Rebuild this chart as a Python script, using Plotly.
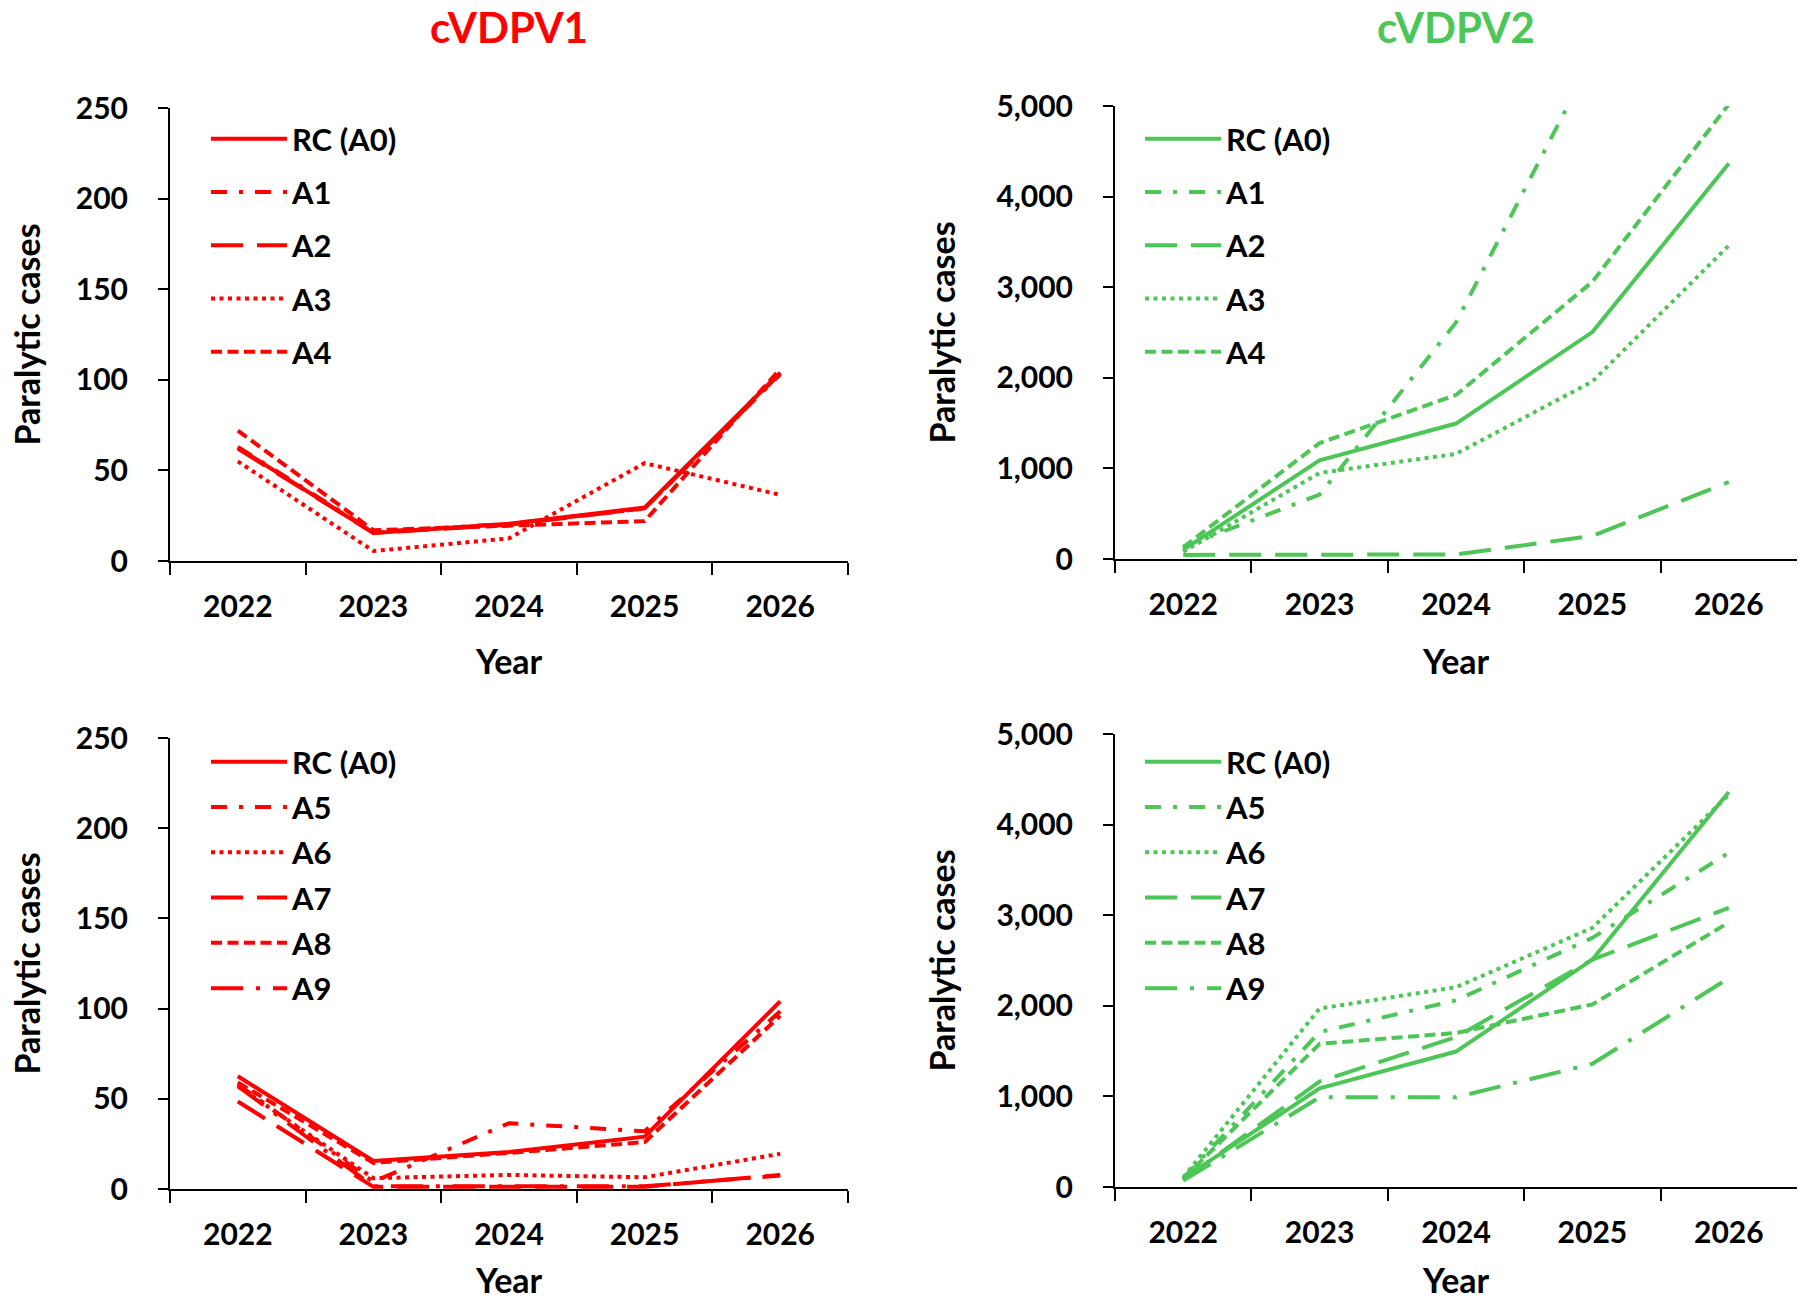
import plotly.graph_objects as go

# ---------------- data ----------------
years = ["2022", "2023", "2024", "2025", "2026"]

# cVDPV1, scenarios A0-A4 (top-left)
v1_top_names = ["RC (A0)", "A1", "A2", "A3", "A4"]
v1_RC = [62.5, 15.5, 20.5, 29.5, 104]
v1_A1 = [63, 16, 20.5, 29, 103]
v1_A2 = [62, 15.5, 20, 29, 103.5]
v1_A3 = [55, 5.5, 12.5, 54, 36.5]
v1_A4 = [72, 17, 19.5, 22, 106]

# cVDPV2, scenarios A0-A4 (top-right)
v2_top_names = ["RC (A0)", "A1", "A2", "A3", "A4"]
v2_RC = [100, 1090, 1495, 2505, 4365]
v2_A1 = [136, 710, 2610, 5530, 8000]
v2_A2 = [45, 45, 50, 255, 850]
v2_A3 = [80, 950, 1160, 1960, 3460]
v2_A4 = [130, 1280, 1810, 3060, 5020]

# cVDPV1, scenarios A0, A5-A9 (bottom-left)
v1_bot_names = ["RC (A0)", "A5", "A6", "A7", "A8", "A9"]
v1b_RC = [62.5, 15.5, 20.5, 29, 104]
v1b_A5 = [58, 4, 36.5, 32, 98.5]
v1b_A6 = [57, 6, 7.8, 6.5, 19.5]
v1b_A7 = [48.5, 1.2, 1.2, 1.2, 7.8]
v1b_A8 = [59, 14.5, 20, 26, 96]
v1b_A9 = [57, 1.5, 1.5, 1.5, 7.5]

# cVDPV2, scenarios A0, A5-A9 (bottom-right)
v2_bot_names = ["RC (A0)", "A5", "A6", "A7", "A8", "A9"]
v2b_RC = [95, 1090, 1495, 2510, 4360]
v2b_A5 = [95, 1710, 2060, 2750, 3690]
v2b_A6 = [105, 1970, 2205, 2860, 4330]
v2b_A7 = [80, 1165, 1655, 2510, 3080]
v2b_A8 = [92, 1580, 1700, 2015, 2920]
v2b_A9 = [70, 990, 990, 1360, 2305]

# ---------------- styles ----------------
RED = "#FF0000"
GREEN = "#4DC657"
FONT = "Lato, 'Open Sans', sans-serif"
LW = 4
DASH = {
    "solid": "solid",
    "dashdot": "16px,12px,4px,12px",
    "longdash": "32px,14px",
    "dot": "4px,4.5px",
    "dash": "11px,5.5px",
    "longdashdot": "32px,13px,4px,13px",
}
top_dashes = ["solid", "dashdot", "longdash", "dot", "dash"]
bot_dashes = ["solid", "dashdot", "dot", "longdash", "dash", "longdashdot"]

panels = [
    # (series, names, dashes, color, xaxis, yaxis, legend)
    ([v1_RC, v1_A1, v1_A2, v1_A3, v1_A4], v1_top_names, top_dashes, RED, "x", "y", "legend"),
    ([v2_RC, v2_A1, v2_A2, v2_A3, v2_A4], v2_top_names, top_dashes, GREEN, "x2", "y2", "legend2"),
    ([v1b_RC, v1b_A5, v1b_A6, v1b_A7, v1b_A8, v1b_A9], v1_bot_names, bot_dashes, RED, "x3", "y3", "legend3"),
    ([v2b_RC, v2b_A5, v2b_A6, v2b_A7, v2b_A8, v2b_A9], v2_bot_names, bot_dashes, GREEN, "x4", "y4", "legend4"),
]

fig = go.Figure()
for pi, (series, names, dashes, color, xa, ya, lg) in enumerate(panels):
    for vals, name, d in zip(series, names, dashes):
        fig.add_trace(go.Scatter(
            x=years, y=vals, name=name, mode="lines",
            line=dict(color=color, width=LW, dash=DASH[d]),
            xaxis=xa, yaxis=ya, legend=lg,
            legendgroup=f"p{pi}_{name}",
            hoverinfo="x+y+name",
        ))

# ---------------- layout ----------------
W, H = 1800, 1302
def px_x(p):
    return p / W
def px_y(p):
    return 1 - p / H

LEFT_X = [px_x(170), px_x(848)]
RIGHT_X = [px_x(1115), px_x(1797)]
TL_Y = [px_y(561), px_y(108)]
TR_Y = [px_y(559), px_y(106)]
BL_Y = [px_y(1189), px_y(738)]
BR_Y = [px_y(1187), px_y(734)]

tickfont = dict(family=FONT, size=30, color="black", weight="bold")

def xax(domain, anchor):
    return dict(domain=domain, anchor=anchor, type="category",
                categoryorder="array", categoryarray=years,
                range=[-0.5, 4.5], showline=True, linecolor="black", linewidth=2,
                ticks="outside", tickson="boundaries", ticklen=12, tickwidth=2,
                tickcolor="black", showgrid=False, zeroline=False,
                tickfont=tickfont, ticklabelstandoff=18, fixedrange=True)

def yax(domain, anchor, top, step, fmt):
    return dict(domain=domain, anchor=anchor, range=[0, top], dtick=step, tick0=0,
                showline=True, linecolor="black", linewidth=2,
                ticks="outside", ticklen=10, tickwidth=2, tickcolor="black",
                showgrid=False, zeroline=False, tickformat=fmt,
                tickfont=tickfont, ticklabelstandoff=24, fixedrange=True)

legfont = dict(family=FONT, size=31, color="black", weight="bold")
def leg(x, y, gap):
    return dict(x=x, y=y, xanchor="left", yanchor="top", bgcolor="rgba(0,0,0,0)",
                font=legfont, itemwidth=76, tracegroupgap=gap, borderwidth=0,
                itemclick=False, itemdoubleclick=False)

fig.update_layout(
    width=W, height=H,
    margin=dict(l=0, r=0, t=0, b=0, autoexpand=False),
    paper_bgcolor="white", plot_bgcolor="white",
    font=dict(family=FONT, color="black"),
    xaxis=xax(LEFT_X, "y"), yaxis=yax(TL_Y, "x", 250, 50, "d"),
    xaxis2=xax(RIGHT_X, "y2"), yaxis2=yax(TR_Y, "x2", 5000, 1000, ",d"),
    xaxis3=xax(LEFT_X, "y3"), yaxis3=yax(BL_Y, "x3", 250, 50, "d"),
    xaxis4=xax(RIGHT_X, "y4"), yaxis4=yax(BR_Y, "x4", 5000, 1000, ",d"),
    legend=leg(px_x(206), px_y(112), 10),
    legend2=leg(px_x(1140), px_y(112), 10),
    legend3=leg(px_x(206), px_y(735), 2),
    legend4=leg(px_x(1140), px_y(735), 2),
    showlegend=True,
)

title_font = dict(family=FONT, size=42, weight="bold")
axis_title_font = dict(family=FONT, size=34, color="black", weight="bold")
ann = [
    dict(text="cVDPV1", x=(LEFT_X[0] + LEFT_X[1]) / 2, y=1, yanchor="top",
         font=dict(**title_font, color=RED)),
    dict(text="cVDPV2", x=(RIGHT_X[0] + RIGHT_X[1]) / 2, y=1, yanchor="top",
         font=dict(**title_font, color=GREEN)),
    dict(text="Year", x=(LEFT_X[0] + LEFT_X[1]) / 2, y=px_y(660), font=axis_title_font),
    dict(text="Year", x=(RIGHT_X[0] + RIGHT_X[1]) / 2, y=px_y(660), font=axis_title_font),
    dict(text="Year", x=(LEFT_X[0] + LEFT_X[1]) / 2, y=0, yanchor="bottom", font=axis_title_font),
    dict(text="Year", x=(RIGHT_X[0] + RIGHT_X[1]) / 2, y=0, yanchor="bottom", font=axis_title_font),
    dict(text="Paralytic cases", x=px_x(26), y=(TL_Y[0] + TL_Y[1]) / 2, textangle=-90, font=axis_title_font),
    dict(text="Paralytic cases", x=px_x(941), y=(TR_Y[0] + TR_Y[1]) / 2, textangle=-90, font=axis_title_font),
    dict(text="Paralytic cases", x=px_x(26), y=(BL_Y[0] + BL_Y[1]) / 2, textangle=-90, font=axis_title_font),
    dict(text="Paralytic cases", x=px_x(941), y=(BR_Y[0] + BR_Y[1]) / 2, textangle=-90, font=axis_title_font),
]
for a in ann:
    a.setdefault("yanchor", "middle")
    a.update(xref="paper", yref="paper", xanchor="center", showarrow=False)
fig.update_layout(annotations=ann)

fig.write_html("out.html",
               config=dict(displayModeBar=False),
               post_script="document.body.style.margin='0';document.body.style.overflow='hidden';")
